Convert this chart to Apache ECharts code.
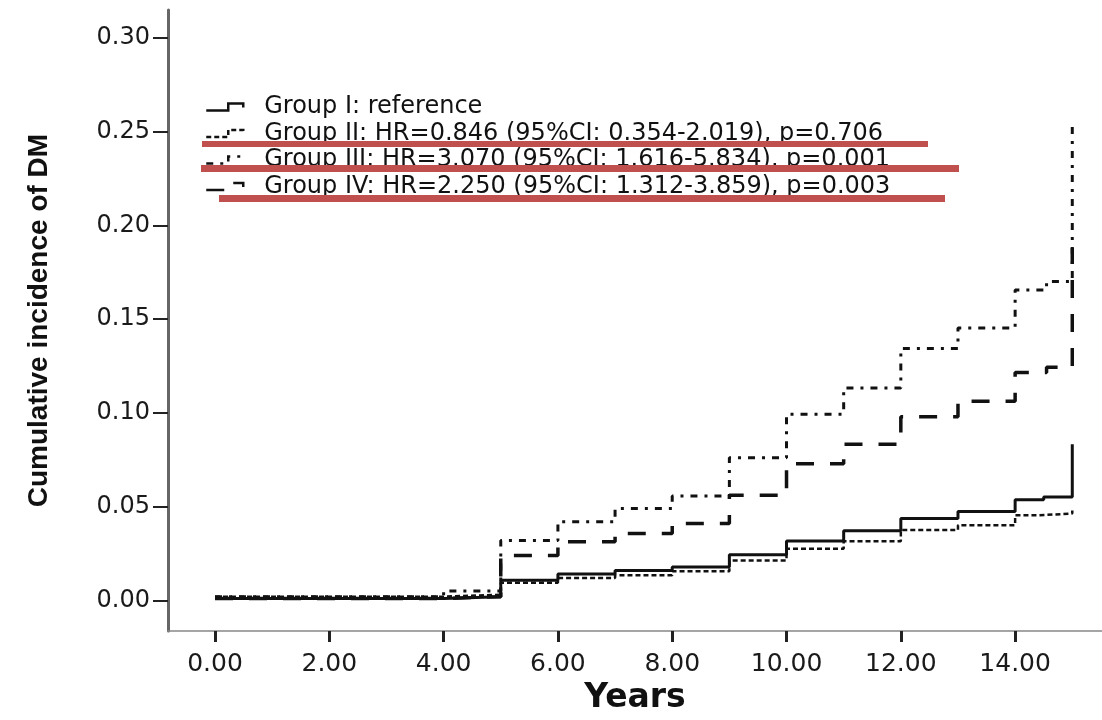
<!DOCTYPE html>
<html>
<head>
<meta charset="utf-8">
<title>Cumulative incidence of DM</title>
<script src="https://cdn.jsdelivr.net/npm/echarts@6/dist/echarts.min.js"></script>
<style>
  html, body { margin: 0; padding: 0; background: #fff; }
  #chart { width: 1102px; height: 720px; }
</style>
</head>
<body>
<div id="chart"></div>
<script>
// cumulative incidence per group: [years, value], value holds until the next time
const groupI = [[0, 0.001], [4, 0.002], [5, 0.0107], [6, 0.0141], [7, 0.016], [8, 0.0178], [9, 0.0243], [10, 0.0317], [11, 0.0372], [12, 0.0437], [13, 0.0474], [14, 0.0537], [14.5, 0.0551], [15, 0.0833]]
const groupII = [[0, 0.002], [4, 0.003], [5, 0.0094], [6, 0.012], [7, 0.0134], [8, 0.0155], [9, 0.0213], [10, 0.0275], [11, 0.0315], [12, 0.0375], [13, 0.0401], [14, 0.0454], [14.4, 0.0463], [15, 0.048]]
const groupIII = [[0, 0.002], [4, 0.005], [5, 0.0319], [6, 0.0419], [7, 0.049], [8, 0.0556], [9, 0.0761], [10, 0.0993], [11, 0.1132], [12, 0.1343], [13, 0.1453], [14, 0.1655], [14.55, 0.170], [15, 0.2558]]
const groupIV = [[0, 0.001], [4, 0.002], [5, 0.0239], [6, 0.0313], [7, 0.0357], [8, 0.041], [9, 0.056], [10, 0.0729], [11, 0.0833], [12, 0.0979], [13, 0.1062], [14, 0.1215], [14.55, 0.1243], [15, 0.188]]

const legendNames = [
  'Group I: reference',
  'Group II: HR=0.846 (95%CI: 0.354-2.019), p=0.706',
  'Group III: HR=3.070 (95%CI: 1.616-5.834), p=0.001',
  'Group IV: HR=2.250 (95%CI: 1.312-3.859), p=0.003'
]
const xTicks = [0, 2, 4, 6, 8, 10, 12, 14]
const yTicks = [0, 0.05, 0.10, 0.15, 0.20, 0.25, 0.30]

const lineTypes = ['solid', [5, 3], [7, 7, 3, 7], [18, 16]]
const lineWidths = [3, 2.5, 3, 3.5]
const stepIcon = 'path://M0,7L22,7L22,0L37,0L37,4'

function stepLine (name, data, i) {
  return {
    name: name,
    type: 'line',
    step: 'end',
    data: data,
    symbol: 'none',
    animation: false,
    itemStyle: { color: '#111' },
    lineStyle: { color: '#111', width: lineWidths[i], type: lineTypes[i] }
  }
}

let chart = echarts.init(document.getElementById('chart'))
let option = {
  backgroundColor: '#fff',
  grid: { left: 168, right: 0, top: 10, bottom: 83, containLabel: false },
  legend: {
    orient: 'vertical',
    left: 200,
    top: 90,
    itemWidth: 37,
    itemHeight: 14,
    itemGap: 2.5,
    selectedMode: false,
    data: legendNames.map((name, i) => ({
      name: name,
      icon: stepIcon,
      itemStyle: { color: 'rgba(0,0,0,0)', borderColor: '#111', borderWidth: 2.5, borderType: lineTypes[i] }
    })),
    textStyle: { fontFamily: 'DejaVu Sans', fontSize: 24, lineHeight: 22, color: '#111', padding: [0, 0, 0, 16] }
  },
  xAxis: {
    type: 'value',
    min: -0.8225,
    max: 15.52,
    name: 'Years',
    nameLocation: 'middle',
    nameGap: 48,
    nameTextStyle: { fontFamily: 'DejaVu Sans', fontWeight: 'bold', fontSize: 33, color: '#111' },
    axisLine: { onZero: false, lineStyle: { color: '#888', width: 1.5 } },
    axisTick: { customValues: xTicks, length: 11, lineStyle: { color: '#222', width: 3 } },
    axisLabel: {
      customValues: xTicks,
      margin: 21,
      fontFamily: 'DejaVu Sans',
      fontSize: 25,
      color: '#1a1a1a',
      formatter: v => v.toFixed(2)
    },
    splitLine: { show: false }
  },
  yAxis: {
    type: 'value',
    min: -0.01637,
    max: 0.3148,
    name: 'Cumulative incidence of DM',
    nameLocation: 'middle',
    nameGap: 115,
    nameTextStyle: { fontFamily: 'Liberation Sans', fontWeight: 'bold', fontSize: 28, color: '#111' },
    axisLine: { show: true, onZero: false, lineStyle: { color: '#666', width: 3 } },
    axisTick: { show: true, customValues: yTicks, length: 15, lineStyle: { color: '#222', width: 2 } },
    axisLabel: {
      customValues: yTicks,
      margin: 18,
      fontFamily: 'DejaVu Sans',
      fontSize: 24,
      color: '#1a1a1a',
      formatter: v => v.toFixed(2)
    },
    splitLine: { show: false }
  },
  // red strike bars drawn over the legend in the source figure
  graphic: [
    { type: 'rect', z: 100, shape: { x: 202, y: 141, width: 726, height: 6 }, style: { fill: '#c0504d' } },
    { type: 'rect', z: 100, shape: { x: 201, y: 165, width: 758, height: 7 }, style: { fill: '#c0504d' } },
    { type: 'rect', z: 100, shape: { x: 219, y: 195, width: 726, height: 7 }, style: { fill: '#c0504d' } }
  ],
  series: [
    stepLine(legendNames[0], groupI, 0),
    stepLine(legendNames[1], groupII, 1),
    stepLine(legendNames[2], groupIII, 2),
    stepLine(legendNames[3], groupIV, 3)
  ]
}
chart.setOption(option)
</script>
</body>
</html>
